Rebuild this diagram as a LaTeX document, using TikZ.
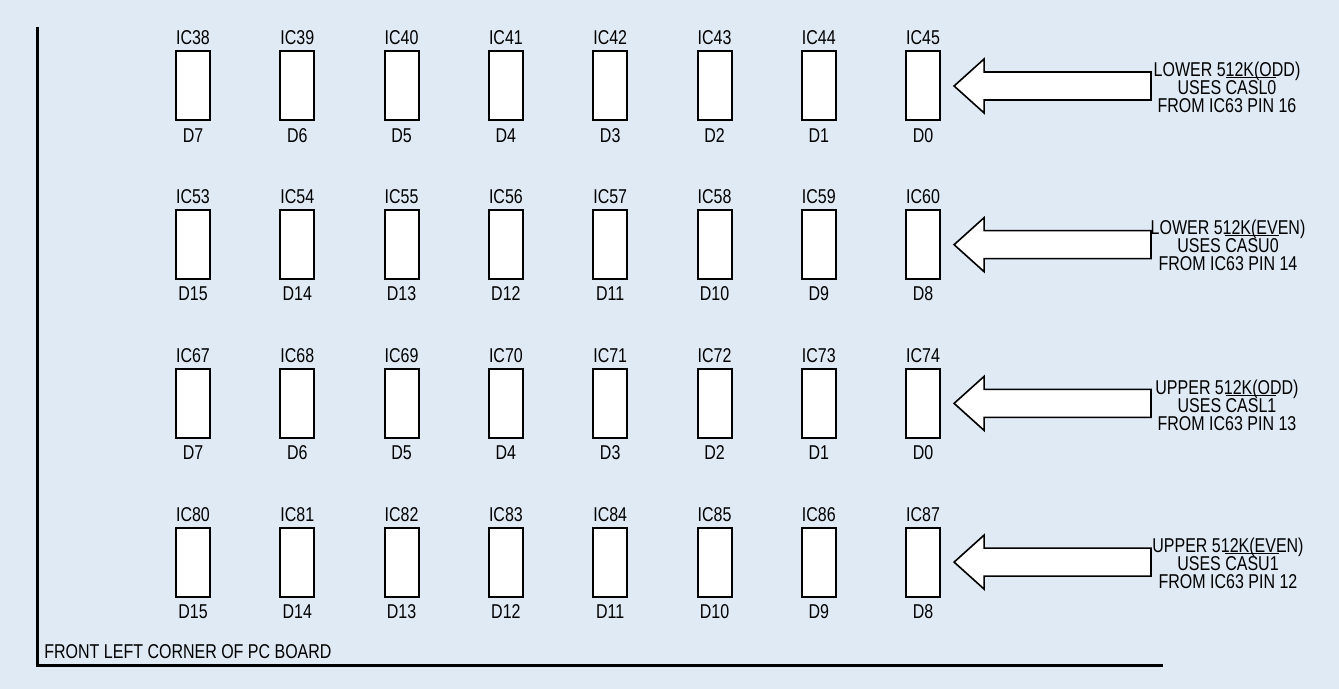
\documentclass[tikz,border=0pt]{standalone}
\usepackage{fontspec}
\setmainfont{Liberation Sans}[FakeStretch=0.8]
\usetikzlibrary{positioning,calc}
\definecolor{bg}{RGB}{224,234,245}
\newcommand\ovl[1]{$\overline{\mbox{#1}}$}
\newcommand\tightlines{\lineskiplimit=-10pt\relax}
\tikzset{chip/.style={draw,fill=white,line width=1pt,minimum width=17pt,minimum height=34.5pt,inner sep=0pt},
 lbl/.style={inner sep=0pt,font=\fontsize{10}{9}\selectfont\tightlines},
 note/.style={lbl,align=center},
 blk/.style={draw,fill=white,line width=.8pt,line join=miter},
 frame/.style={line width=1.5pt}}
\begin{document}
\begin{tikzpicture}[x=0.5pt,y=-0.5pt]
\useasboundingbox[fill=bg] (0,0) rectangle (1339,689);
% board edges
\coordinate (top) at (37,27);
\coordinate (corner) at (37,665);
\coordinate (right) at (1163,665);
\draw[frame] (top) -- (corner) -- (right);
\node[lbl,anchor=south west] (edge) at (44,659) {FRONT LEFT CORNER OF PC BOARD};
% memory chips
\foreach \row/\first/\hi in {1/38/7,2/53/15,3/67/7,4/80/15}{
 \foreach \col in {1,...,8}{
  \pgfmathtruncatemacro{\ic}{\first+\col-1}
  \pgfmathtruncatemacro{\bit}{\hi-\col+1}
  \node[chip] (c\row\col) at ({193+104.3*(\col-1)},{86+158.7*(\row-1)}) {};
  \node[lbl,above=2.5pt of c\row\col] (ic\row\col) {IC\ic};
  \node[lbl,below=3.2pt of c\row\col] (d\row\col) {D\bit};
 }
}
% CAS notes
\node[note] (n1) at (1227,87) {LOWER 512K(ODD)\\USES \ovl{CASL0}\\FROM IC63 PIN 16};
\node[note] (n2) at (1228,245) {LOWER 512K(EVEN)\\USES \ovl{CASU0}\\FROM IC63 PIN 14};
\node[note] (n3) at (1227,405) {UPPER 512K(ODD)\\USES \ovl{CASL1}\\FROM IC63 PIN 13};
\node[note] (n4) at (1228,563) {UPPER 512K(EVEN)\\USES \ovl{CASU1}\\FROM IC63 PIN 12};
\foreach \row in {1,...,4}{
 \coordinate (t\row) at ($(c\row8.east)+(13,0)$);
 \coordinate (e\row) at (1151,0 |- t\row);
 \draw[blk] (t\row) -- ++(30,-27) -- ++(0,13) -- ($(e\row)+(0,-14)$)
  -- ($(e\row)+(0,14)$) -- ($(t\row)+(30,14)$) -- ++(0,13) -- cycle;
}
\end{tikzpicture}
\end{document}
